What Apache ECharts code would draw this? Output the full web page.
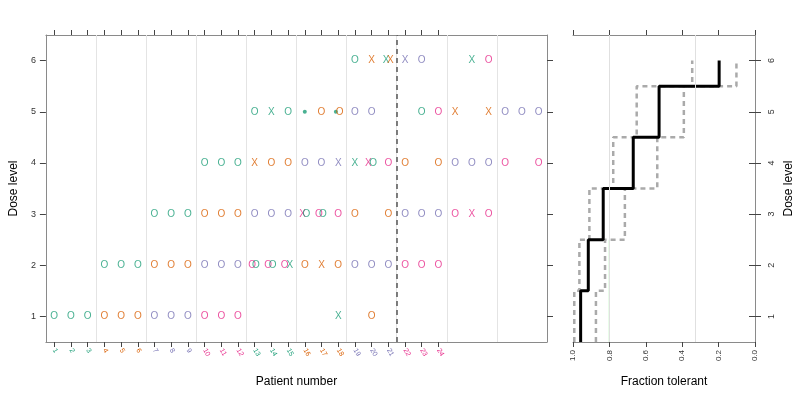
<!DOCTYPE html>
<html><head><meta charset="utf-8">
<script src="https://cdn.jsdelivr.net/npm/echarts@6/dist/echarts.min.js"></script>
<style>html,body{margin:0;padding:0;background:#fff}#c{width:800px;height:400px}</style>
</head><body><div id="c"></div>
<script>
// ---------- data ----------
const patientTicks = [1,2,3,4,5,6,7,8,9,10,11,12,13,14,15,16,17,18,19,20,21,22,23,24];
const doseLevels = [1,2,3,4,5,6];
// marks in left panel: position on patient axis, dose level, symbol, cohort group (0..3)
const markPos = [
  1,2,3,4,5,6,7,8,9,10,11,12,18,20,
  4,5,6,7,8,9,10,11,12,12.85,13.07,13.81,14.07,14.8,15.1,16,17,18,19,20,21,22,23,24,
  7,8,9,10,11,12,13,14,15,15.86,16.1,16.85,17.09,18,19,21,22,23,24,25,26,27,
  10,11,12,13,14,15,16,17,18,19,19.8,20.09,21,22,24,25,26,27,28,30,
  13,14,15,16,17,17.86,18.08,19,20,23,24,25,27,28,29,30,
  19,20,20.86,21.12,22,23,26,27
];
const markDose = [
  1,1,1,1,1,1,1,1,1,1,1,1,1,1,
  2,2,2,2,2,2,2,2,2,2,2,2,2,2,2,2,2,2,2,2,2,2,2,2,
  3,3,3,3,3,3,3,3,3,3,3,3,3,3,3,3,3,3,3,3,3,3,
  4,4,4,4,4,4,4,4,4,4,4,4,4,4,4,4,4,4,4,4,
  5,5,5,5,5,5,5,5,5,5,5,5,5,5,5,5,
  6,6,6,6,6,6,6,6
];
const markSym = [
  'O','O','O','O','O','O','O','O','O','O','O','O','X','O',
  'O','O','O','O','O','O','O','O','O','O','O','O','O','O','X','O','X','O','O','O','O','O','O','O',
  'O','O','O','O','O','O','O','O','O','X','O','O','O','O','O','O','O','O','O','O','X','O',
  'O','O','O','X','O','O','O','O','X','X','X','O','O','O','O','O','O','O','O','O',
  'O','X','O','.','O','.','O','O','O','O','O','X','X','O','O','O',
  'O','X','X','X','X','O','X','O'
];
const markCohort = [
  0,0,0,1,1,1,2,2,2,3,3,3,0,1,
  0,0,0,1,1,1,2,2,2,3,0,3,0,3,0,1,1,1,2,2,2,3,3,3,
  0,0,0,1,1,1,2,2,2,3,0,3,0,3,1,1,2,2,2,3,3,3,
  0,0,0,1,1,1,2,2,2,0,3,0,3,1,1,2,2,2,3,3,
  0,0,0,0,1,0,1,2,2,0,3,1,1,2,2,2,
  0,1,0,1,2,2,0,3
];
const cohortBoundaries = [3.5,6.5,9.5,12.5,15.5,18.5,21.5,24.5,27.5];
const currentPatientLine = [21.5];
// right panel
const fracTicks = [1.0,0.8,0.6,0.4,0.2,0.0];
const estTolerant   = [0.958,0.916,0.834,0.669,0.527,0.197];
const lowerTolerant = [0.993,0.965,0.910,0.779,0.650,0.345];
const upperTolerant = [0.874,0.824,0.715,0.537,0.391,0.102];
const fracRefLines = [0.8, 0.333];
const targetFrac = [0.8];
const targetDoseSpan = [0.5, 2.5];

// ---------- styles ----------
const cohortColors = ['#1B9E77','#D95F02','#7570B3','#E7298A'];
const FONT = 'Liberation Sans, Arial, sans-serif';
const frame = {show:true, lineStyle:{color:'#8a8a8a', width:1}};
const tickStyle = {color:'#444', width:1};

function stepPoints(vals){
  const pts=[];
  vals.forEach((v,i)=>{
    const d = doseLevels[i];
    pts.push([v, d-0.5]);
    pts.push([v, i===vals.length-1 ? d : d+0.5]);
  });
  return pts;
}

const textMarks=[], dotMarks=[];
markPos.forEach((x,i)=>{
  const c = cohortColors[markCohort[i]];
  if (markSym[i]==='.') dotMarks.push({value:[x, markDose[i]], itemStyle:{color:c}});
  else textMarks.push({value:[x, markDose[i]], label:{formatter:markSym[i], color:c}});
});

const chart = echarts.init(document.getElementById('c'), null, {renderer:'canvas'});
const option = {
  animation:false,
  textStyle:{fontFamily:FONT},
  grid:[
    {left:43, top:35, width:504, height:307},
    {left:573, top:35, width:182, height:307}
  ],
  xAxis:[
    {gridIndex:0, type:'value', position:'bottom', min:0.5, max:30.5,
     axisLine:frame, splitLine:{show:false},
     axisTick:{show:true, customValues:patientTicks, length:5, lineStyle:tickStyle},
     axisLabel:{show:true, customValues:patientTicks, rotate:-60, fontSize:7, margin:7, fontFamily:FONT,
       color:(v)=>cohortColors[Math.floor((parseFloat(v)-1)/3)%4]},
     name:'Patient number', nameLocation:'middle', nameGap:34,
     nameTextStyle:{fontSize:12, color:'#000', fontFamily:FONT}},
    {gridIndex:0, type:'value', position:'top', min:0.5, max:30.5,
     axisLine:frame, splitLine:{show:false},
     axisTick:{show:true, customValues:patientTicks, length:5, lineStyle:tickStyle},
     axisLabel:{show:false}},
    {gridIndex:1, type:'value', position:'bottom', min:0, max:1, interval:0.2, inverse:true,
     axisLine:frame, splitLine:{show:false},
     axisTick:{show:true, customValues:fracTicks, length:5, lineStyle:tickStyle},
     axisLabel:{show:true, customValues:fracTicks, rotate:90, fontSize:8, margin:8, color:'#333', fontFamily:FONT,
       formatter:(v)=>Number(v).toFixed(1)},
     name:'Fraction tolerant', nameLocation:'middle', nameGap:34,
     nameTextStyle:{fontSize:12, color:'#000', fontFamily:FONT}},
    {gridIndex:1, type:'value', position:'top', min:0, max:1, inverse:true,
     axisLine:frame, splitLine:{show:false},
     axisTick:{show:true, customValues:fracTicks, length:5, lineStyle:tickStyle},
     axisLabel:{show:false}}
  ],
  yAxis:[
    {gridIndex:0, type:'value', position:'left', min:0.5, max:6.5,
     axisLine:frame, splitLine:{show:false},
     axisTick:{show:true, customValues:doseLevels, length:6, lineStyle:tickStyle},
     axisLabel:{show:true, customValues:doseLevels, fontSize:9, margin:10, color:'#333', fontFamily:FONT},
     name:'Dose level', nameLocation:'middle', nameGap:25, nameRotate:90,
     nameTextStyle:{fontSize:12, color:'#000', fontFamily:FONT}},
    {gridIndex:0, type:'value', position:'right', min:0.5, max:6.5,
     axisLine:frame, splitLine:{show:false},
     axisTick:{show:true, customValues:doseLevels, length:6, lineStyle:tickStyle},
     axisLabel:{show:false}},
    {gridIndex:1, type:'value', position:'left', min:0.5, max:6.5,
     axisLine:frame, splitLine:{show:false},
     axisTick:{show:true, customValues:doseLevels, length:6, lineStyle:tickStyle},
     axisLabel:{show:false}},
    {gridIndex:1, type:'value', position:'right', min:0.5, max:6.5,
     axisLine:frame, splitLine:{show:false},
     axisTick:{show:true, customValues:doseLevels, length:6, lineStyle:tickStyle},
     axisLabel:{show:true, customValues:doseLevels, rotate:90, fontSize:9, margin:12, color:'#333', fontFamily:FONT},
     name:'Dose level', nameLocation:'middle', nameGap:28, nameRotate:90,
     nameTextStyle:{fontSize:12, color:'#000', fontFamily:FONT}}
  ],
  series:[
    {type:'scatter', xAxisIndex:0, yAxisIndex:0, data:[], silent:true,
     markLine:{silent:true, symbol:'none', label:{show:false}, animation:false,
       lineStyle:{color:'#e4e4e4', width:1, type:'solid'},
       data:cohortBoundaries.map(v=>({xAxis:v}))}},
    {type:'scatter', xAxisIndex:0, yAxisIndex:0, data:[], silent:true,
     markLine:{silent:true, symbol:'none', label:{show:false}, animation:false,
       lineStyle:{color:'#555', width:1.5, type:[5,4]},
       data:currentPatientLine.map(v=>({xAxis:v}))}},
    {type:'scatter', xAxisIndex:0, yAxisIndex:0, symbol:'circle', symbolSize:1,
     itemStyle:{color:'rgba(0,0,0,0)'}, silent:true,
     label:{show:true, position:'inside', fontSize:10, fontFamily:FONT},
     data:textMarks},
    {type:'scatter', xAxisIndex:0, yAxisIndex:0, symbol:'circle', symbolSize:4, silent:true,
     data:dotMarks},
    {type:'scatter', xAxisIndex:2, yAxisIndex:2, data:[], silent:true,
     markLine:{silent:true, symbol:'none', label:{show:false}, animation:false,
       lineStyle:{color:'#e0e0e0', width:1, type:'solid'},
       data:fracRefLines.map(v=>({xAxis:v}))}},
    {type:'line', xAxisIndex:2, yAxisIndex:2, symbol:'none', silent:true,
     lineStyle:{color:'#33dd33', width:1},
     data:[[targetFrac[0], targetDoseSpan[0]],[targetFrac[0], targetDoseSpan[1]]]},
    {type:'line', xAxisIndex:2, yAxisIndex:2, symbol:'none', silent:true,
     lineStyle:{color:'#aaaaaa', width:2.5, type:[5,4]}, data:stepPoints(lowerTolerant)},
    {type:'line', xAxisIndex:2, yAxisIndex:2, symbol:'none', silent:true,
     lineStyle:{color:'#aaaaaa', width:2.5, type:[5,4]}, data:stepPoints(upperTolerant)},
    {type:'line', xAxisIndex:2, yAxisIndex:2, symbol:'none', silent:true,
     lineStyle:{color:'#000', width:3}, data:stepPoints(estTolerant)}
  ]
};
chart.setOption(option);
</script></body></html>
